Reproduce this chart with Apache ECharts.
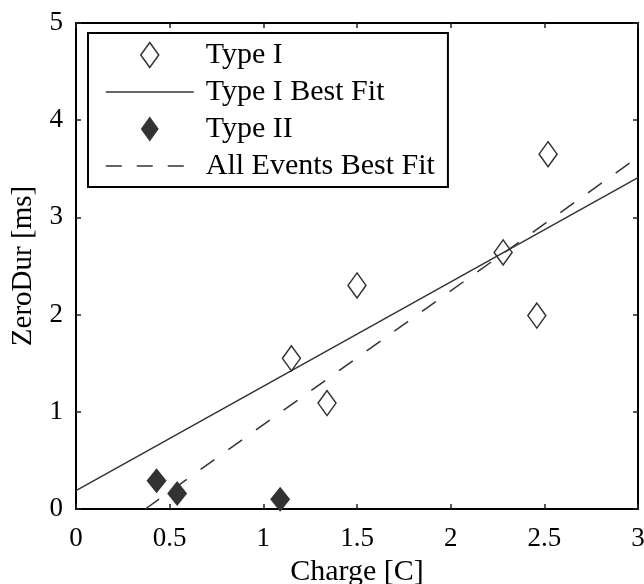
<!DOCTYPE html>
<html>
<head>
<meta charset="utf-8">
<script src="https://cdn.jsdelivr.net/npm/echarts@6/dist/echarts.min.js"></script>
<style>html,body{margin:0;padding:0;background:#fff}#c{width:644px;height:584px}</style>
</head>
<body>
<div id="c"></div>
<script>
// Data
const typeIX = [1.15, 1.34, 1.50, 2.28, 2.46, 2.52];
const typeIY = [1.55, 1.09, 2.30, 2.64, 1.99, 3.65];
const typeIIX = [0.43, 0.54, 1.09];
const typeIIY = [0.29, 0.16, 0.10];
const fitIX = [0, 3];
const fitIY = [0.19, 3.41];
const fitAllX = [0.37, 3];
const fitAllY = [0, 3.62];
const xTicks = [0, 0.5, 1, 1.5, 2, 2.5, 3];
const yTicks = [0, 1, 2, 3, 4, 5];
const names = ['Type I', 'Type I Best Fit', 'Type II', 'All Events Best Fit'];

const zip = (a, b) => a.map((v, i) => [v, b[i]]);
const ink = '#333';
const font = 'Liberation Serif';
const diamond = 'path://M9,0L18,12.5L9,25L0,12.5Z';

const chart = echarts.init(document.getElementById('c'), null, {renderer: 'canvas'});
const axisCommon = {
  axisLine: {show: true, onZero: false, lineStyle: {color: '#000', width: 2}},
  axisTick: {show: true, inside: true, length: 5, lineStyle: {color: '#222', width: 1.5}},
  splitLine: {show: false},
};
const hiddenSymbol = {color: 'rgba(0,0,0,0)', borderColor: 'rgba(0,0,0,0)', borderWidth: 0, opacity: 0};
chart.setOption({
  animation: false,
  backgroundColor: '#fff',
  textStyle: {fontFamily: font},
  grid: {left: 76, right: 6, top: 23, bottom: 75, containLabel: false, outerBoundsMode: 'none'},
  xAxis: [
    Object.assign({}, axisCommon, {
      type: 'value', position: 'bottom', min: xTicks[0], max: xTicks[xTicks.length - 1], interval: 0.5,
      name: 'Charge [C]', nameLocation: 'middle', nameGap: 46,
      nameTextStyle: {fontFamily: font, fontSize: 30, color: '#000'},
      axisLabel: {show: true, margin: 16, fontFamily: font, fontSize: 27, color: '#000',
        formatter: v => String(v)}
    }),
    Object.assign({}, axisCommon, {
      type: 'value', position: 'top', min: xTicks[0], max: xTicks[xTicks.length - 1], interval: 0.5,
      axisLabel: {show: false}
    })
  ],
  yAxis: [
    Object.assign({}, axisCommon, {
      type: 'value', position: 'left', min: yTicks[0], max: yTicks[yTicks.length - 1], interval: 1,
      name: 'ZeroDur [ms]', nameLocation: 'middle', nameGap: 38,
      nameTextStyle: {fontFamily: font, fontSize: 29, color: '#000'},
      axisLabel: {show: true, margin: 13, fontFamily: font, fontSize: 27, color: '#000'}
    }),
    Object.assign({}, axisCommon, {
      type: 'value', position: 'right', min: yTicks[0], max: yTicks[yTicks.length - 1], interval: 1,
      axisLabel: {show: false}
    })
  ],
  legend: {
    orient: 'vertical', left: 88, top: 33,
    padding: [7, 13, 6, 17],
    itemGap: 7, itemWidth: 88, itemHeight: 25,
    backgroundColor: '#fff', borderColor: '#000', borderWidth: 2, borderRadius: 0,
    selectedMode: false,
    textStyle: {fontFamily: font, fontSize: 30, color: '#000', lineHeight: 30, padding: [0, 0, 0, 7]},
    data: [
      {name: names[0], icon: diamond, itemStyle: {color: 'rgba(0,0,0,0)', borderColor: ink, borderWidth: 1.5, opacity: 1}},
      {name: names[1], itemStyle: hiddenSymbol, lineStyle: {color: ink, width: 1.5, type: 'solid', opacity: 1}},
      {name: names[2], icon: diamond, itemStyle: {color: ink, borderWidth: 0, opacity: 1}},
      {name: names[3], itemStyle: hiddenSymbol, lineStyle: {color: ink, width: 1.5, type: [16, 15], opacity: 1}}
    ]
  },
  series: [
    {
      name: names[1], type: 'line', data: zip(fitIX, fitIY), symbol: 'none', silent: true,
      lineStyle: {color: ink, width: 1.5, type: 'solid'}, itemStyle: {color: ink}, z: 2
    },
    {
      name: names[3], type: 'line', data: zip(fitAllX, fitAllY), symbol: 'none', silent: true,
      lineStyle: {color: ink, width: 1.5, type: [17, 17]}, itemStyle: {color: ink}, z: 2
    },
    {
      name: names[0], type: 'scatter', data: zip(typeIX, typeIY), symbol: 'diamond', symbolSize: [18, 25],
      clip: false, silent: true,
      itemStyle: {color: 'rgba(0,0,0,0)', borderColor: ink, borderWidth: 1.5, opacity: 1}, z: 3
    },
    {
      name: names[2], type: 'scatter', data: zip(typeIIX, typeIIY), symbol: 'diamond', symbolSize: [20, 25],
      clip: false, silent: true,
      itemStyle: {color: ink, borderWidth: 0, opacity: 1}, z: 3
    }
  ]
});
</script>
</body>
</html>
